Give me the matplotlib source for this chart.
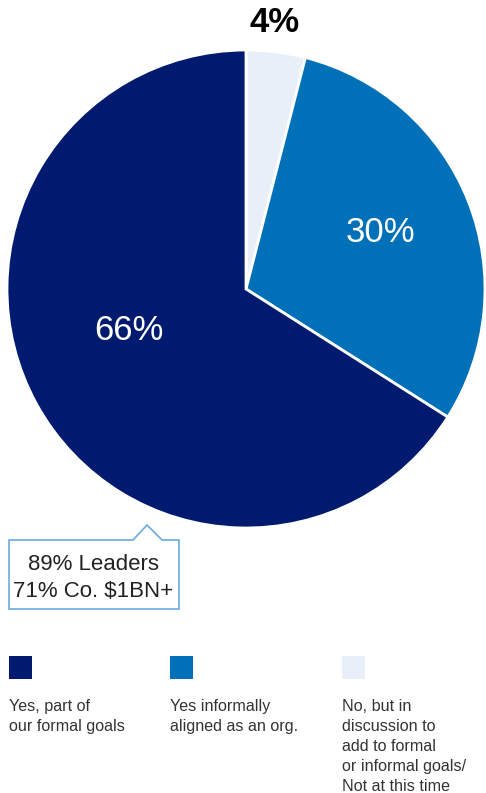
import matplotlib.pyplot as plt
from matplotlib.patches import Polygon, Rectangle

plt.rcParams['font.family'] = ['Liberation Sans', 'DejaVu Sans']

# data
shares = [4, 30, 66]
share_labels = ["4%", "30%", "66%"]
colors = ["#e8eff9", "#0070b8", "#001a70"]
legend_labels = [
    "Yes, part of\nour formal goals",
    "Yes informally\naligned as an org.",
    "No, but in\ndiscussion to\nadd to formal\nor informal goals/\nNot at this time",
]
legend_colors = ["#001a70", "#0070b8", "#e8eff9"]
callout_text = "89% Leaders\n71% Co. $1BN+"

W, H = 486, 793
fig = plt.figure(figsize=(W / 100, H / 100), dpi=100)
ax = fig.add_axes([0, 0, 1, 1])

# pie in pixel coordinates (y up)
cx, cy, r = 246, H - 289, 239
ax.pie(shares, colors=colors, startangle=90, counterclock=False,
       center=(cx, cy), radius=r,
       wedgeprops=dict(edgecolor="white", linewidth=2))
ax.set_xlim(0, W)
ax.set_ylim(0, H)
ax.set_aspect("auto")
ax.axis("off")

# percentage labels
ax.text(275, H - 23, share_labels[0], fontsize=25, fontweight="bold",
        color="black", ha="center", va="center")
ax.text(380, H - 233, share_labels[1], fontsize=25, color="white",
        ha="center", va="center")
ax.text(129, H - 331, share_labels[2], fontsize=25, color="white",
        ha="center", va="center")

# callout box with pointer
box = [(9, H - 540), (133, H - 540), (147, H - 525), (162, H - 540),
       (179, H - 540), (179, H - 609), (9, H - 609)]
ax.add_patch(Polygon(box, closed=True, facecolor="white",
                     edgecolor="#6aaae0", linewidth=1.2))
ax.text(93, H - 578, callout_text, fontsize=16, color="#222222",
        ha="center", va="center", linespacing=1.37)

# legend
legend_x = [9, 170, 342]
for x, c, lab in zip(legend_x, legend_colors, legend_labels):
    ax.add_patch(Rectangle((x, H - 679), 23, 23, facecolor=c, edgecolor="none"))
    ax.text(x, H - 699, lab, fontsize=11.6, color="#333333",
            ha="left", va="top", linespacing=1.42)

fig.savefig("out.png", dpi=100)
